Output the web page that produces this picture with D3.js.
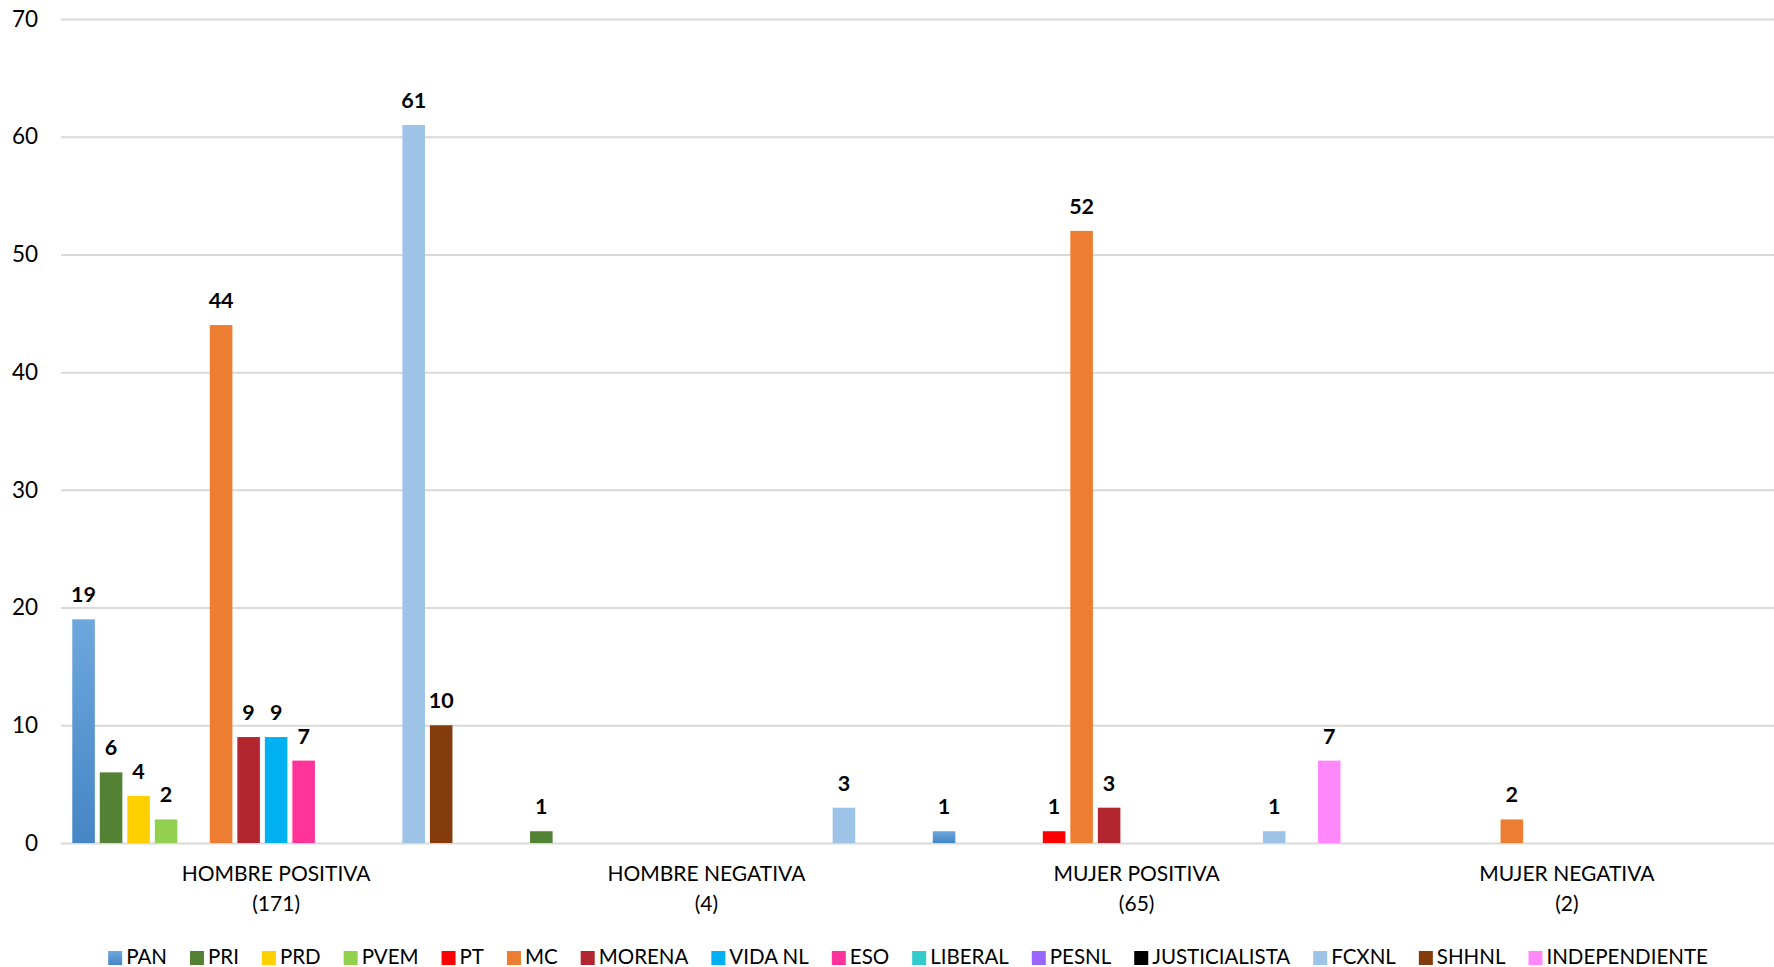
<!DOCTYPE html>
<html>
<head>
<meta charset="utf-8">
<script src="https://cdn.jsdelivr.net/npm/d3@7"></script>
<style>
  html, body { margin: 0; padding: 0; background: #ffffff; overflow: hidden; }
  svg { display: block; }
  text { font-family: "Lato", "Open Sans", sans-serif; fill: #000; }
</style>
</head>
<body>
<svg id="chart" width="1774" height="967"></svg>
<script>
// ---- Data ----
const categories = ["HOMBRE POSITIVA", "HOMBRE NEGATIVA", "MUJER POSITIVA", "MUJER NEGATIVA"];
const categoryTotals = ["(171)", "(4)", "(65)", "(2)"];
const seriesNames = ["PAN", "PRI", "PRD", "PVEM", "PT", "MC", "MORENA", "VIDA NL", "ESO",
                     "LIBERAL", "PESNL", "JUSTICIALISTA", "FCXNL", "SHHNL", "INDEPENDIENTE"];
const seriesColors = ["#5B9BD5", "#548235", "#FFD000", "#92D050", "#FF0000", "#ED7D31", "#B3262F",
                      "#00B0F0", "#FF3399", "#33CCCC", "#9966FF", "#000000", "#9DC3E6", "#843C0C", "#FF88FA"];
// values per category, in series order (null = no bar)
const hombrePositiva = [19, 6, 4, 2, null, 44, 9, 9, 7, null, null, null, 61, 10, null];
const hombreNegativa = [null, 1, null, null, null, null, null, null, null, null, null, null, 3, null, null];
const mujerPositiva  = [1, null, null, null, 1, 52, 3, null, null, null, null, null, 1, null, 7];
const mujerNegativa  = [null, null, null, null, null, 2, null, null, null, null, null, null, null, null, null];
const yTicks = [0, 10, 20, 30, 40, 50, 60, 70];

const values = [hombrePositiva, hombreNegativa, mujerPositiva, mujerNegativa];

// ---- Layout ----
const svg = d3.select("#chart");
const plotLeft = 61, plotRight = 1782, plotTop = 19, plotBottom = 843;

const x0 = d3.scaleBand().domain(categories).range([plotLeft, plotRight]).paddingInner(0).paddingOuter(0);
const x1 = d3.scaleBand().domain(seriesNames).range([0, x0.bandwidth()]).paddingInner(0.18).paddingOuter(0.41);
const y = d3.scaleLinear().domain([0, 70]).range([plotBottom, plotTop]);

// gradient for PAN
const defs = svg.append("defs");
const grad = defs.append("linearGradient").attr("id", "panGrad").attr("x1", 0).attr("y1", 0).attr("x2", 0).attr("y2", 1);
grad.append("stop").attr("offset", "0%").attr("stop-color", "#6EA7DD");
grad.append("stop").attr("offset", "100%").attr("stop-color", "#4586C6");

// gridlines + y labels
const yAxis = d3.axisLeft(y).tickValues(yTicks).tickSize(-(1774 - plotLeft)).tickPadding(23);
const gy = svg.append("g").attr("transform", `translate(${plotLeft},0)`).call(yAxis);
gy.select(".domain").remove();
gy.selectAll(".tick line").attr("stroke", "#D9D9D9").attr("stroke-width", 2);
gy.selectAll(".tick text").style("font-size", "22.5px").attr("fill", "#000").style("font-family", "Lato, sans-serif");

// x axis labels
const xAxis = d3.axisBottom(x0).tickSize(0).tickPadding(0);
const gx = svg.append("g").attr("transform", `translate(0,${plotBottom})`).call(xAxis);
gx.select(".domain").remove();
gx.selectAll(".tick text").each(function(d, i) {
  const t = d3.select(this);
  t.text(null).attr("y", 0).attr("dy", null)
   .style("font-size", "21px").style("font-family", "Lato, sans-serif").attr("fill", "#000");
  t.append("tspan").attr("x", 0).attr("y", 38).text(d);
  t.append("tspan").attr("x", 0).attr("y", 68).text(categoryTotals[i]);
});

// bars
const groups = svg.append("g").selectAll("g").data(categories).join("g")
  .attr("transform", d => `translate(${x0(d)},0)`);

groups.each(function(cat, ci) {
  const data = seriesNames.map((s, si) => ({ s, si, v: values[ci][si] })).filter(d => d.v !== null);
  const g = d3.select(this);
  g.selectAll("rect").data(data).join("rect")
    .attr("x", d => x1(d.s))
    .attr("width", x1.bandwidth())
    .attr("y", d => y(d.v))
    .attr("height", d => y(0) - y(d.v))
    .attr("fill", d => d.si === 0 ? "url(#panGrad)" : seriesColors[d.si]);
  g.selectAll("text.lbl").data(data).join("text")
    .attr("class", "lbl")
    .attr("x", d => x1(d.s) + x1.bandwidth() / 2)
    .attr("y", d => y(d.v) - 17)
    .attr("text-anchor", "middle")
    .style("font-size", "21.5px")
    .style("font-weight", "bold")
    .text(d => d.v);
});

// legend
const legend = svg.append("g");
const items = legend.selectAll("g").data(seriesNames).join("g");
items.append("rect").attr("width", 14).attr("height", 14).attr("y", -13)
  .attr("fill", (d, i) => i === 0 ? "url(#panGrad)" : seriesColors[i]);
items.append("text").attr("x", 18).attr("y", 0).style("font-size", "20.5px").text(d => d);
const widths = [];
items.each(function() {
  const w = 18 + this.querySelector("text").getComputedTextLength();
  widths.push(w);
});
const spacing = 23;
const total = d3.sum(widths) + spacing * (widths.length - 1);
let start = 908 - total / 2;
items.attr("transform", (d, i) => {
  const tx = start;
  start += widths[i] + spacing;
  return `translate(${tx},964)`;
});
</script>
</body>
</html>
